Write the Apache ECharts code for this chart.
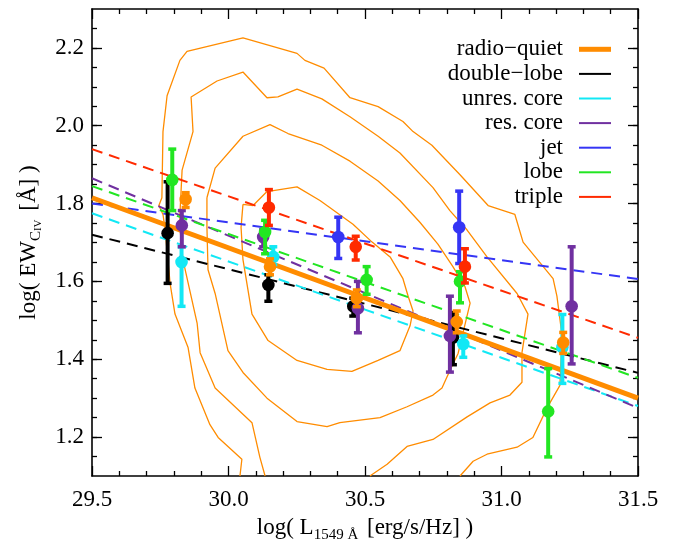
<!DOCTYPE html>
<html>
<head>
<meta charset="utf-8">
<script src="https://cdn.jsdelivr.net/npm/echarts@6/dist/echarts.min.js"></script>
<style>html,body{margin:0;padding:0;background:#fff}#c{width:675px;height:548px}</style>
</head>
<body>
<div id="c"></div>
<script>
// ---------- data ----------
const xTicks = [29.5, 30.0, 30.5, 31.0, 31.5];
const yTicks = [1.2, 1.4, 1.6, 1.8, 2.0, 2.2];
const yMinorTicks = [1.15,1.2,1.25,1.3,1.35,1.4,1.45,1.5,1.55,1.6,1.65,1.7,1.75,1.8,1.85,1.9,1.95,2.0,2.05,2.1,2.15,2.2,2.25];

// density contours of radio-quiet sample
const contour1 = [[30.042,1.10],[30.049,1.143],[29.962,1.199],[29.932,1.232],[29.877,1.326],[29.852,1.430],[29.804,1.516],[29.786,1.595],[29.767,1.739],[29.760,1.772],[29.745,1.795],[29.756,1.815],[29.760,1.985],[29.775,2.077],[29.822,2.168],[29.848,2.191],[30.053,2.226],[30.251,2.186],[30.280,2.168],[30.350,2.148],[30.445,2.072],[30.548,2.049],[30.639,2.011],[30.676,1.985],[30.745,1.950],[30.848,1.874],[30.951,1.795],[31.049,1.772],[31.079,1.701],[31.189,1.607],[31.203,1.562],[31.222,1.460],[31.214,1.333],[31.167,1.275],[31.115,1.199],[31.057,1.174],[30.947,1.156],[30.896,1.138],[30.848,1.10]];
const contour2 = [[30.134,1.10],[30.115,1.148],[30.086,1.237],[29.951,1.326],[29.896,1.417],[29.885,1.493],[29.833,1.656],[29.822,1.739],[29.822,1.772],[29.830,1.886],[29.870,1.985],[29.863,2.074],[29.958,2.115],[30.053,2.138],[30.141,2.072],[30.181,2.074],[30.251,2.094],[30.342,2.069],[30.445,2.023],[30.548,1.973],[30.628,1.930],[30.749,1.841],[30.811,1.782],[30.874,1.732],[30.947,1.663],[31.057,1.569],[31.097,1.516],[31.075,1.417],[31.075,1.341],[31.031,1.308],[30.958,1.288],[30.874,1.252],[30.749,1.194],[30.654,1.176],[30.581,1.130],[30.518,1.10]];
const contour3 = [[29.921,1.815],[29.951,1.891],[30.053,1.973],[30.152,2.003],[30.218,1.980],[30.342,1.950],[30.445,1.909],[30.548,1.858],[30.628,1.808],[30.701,1.752],[30.767,1.696],[30.822,1.638],[30.866,1.587],[30.885,1.544],[30.841,1.415],[30.811,1.371],[30.782,1.326],[30.749,1.308],[30.654,1.278],[30.555,1.250],[30.408,1.237],[30.361,1.227],[30.251,1.240],[30.141,1.300],[30.053,1.366],[29.998,1.422],[29.951,1.569],[29.925,1.630],[29.921,1.739],[29.921,1.815]];
const contour4 = [[30.053,1.798],[30.090,1.795],[30.141,1.831],[30.251,1.843],[30.335,1.808],[30.456,1.747],[30.526,1.701],[30.592,1.663],[30.639,1.607],[30.658,1.562],[30.676,1.524],[30.665,1.486],[30.628,1.422],[30.548,1.397],[30.452,1.369],[30.361,1.374],[30.251,1.397],[30.145,1.448],[30.086,1.516],[30.053,1.656],[30.046,1.739],[30.053,1.798]];

// best-fit lines: value at x = 29.5 and x = 31.5
const fitX = [29.5, 31.5];
const fitRadioQuiet = [1.815, 1.300];
const fitDoubleLobe = [1.720, 1.365];
const fitUnresCore  = [1.775, 1.280];
const fitResCore    = [1.865, 1.275];
const fitJet        = [1.800, 1.606];
const fitLobe       = [1.845, 1.352];
const fitTriple     = [1.940, 1.455];

// binned points with error bars
const rqX  = [29.843, 30.152, 30.470, 30.836, 31.226];
const rqY  = [1.811, 1.638, 1.557, 1.496, 1.443];
const rqLo = [1.790, 1.617, 1.535, 1.468, 1.415];
const rqHi = [1.828, 1.658, 1.578, 1.524, 1.469];

const dlX  = [29.777, 30.146, 30.457, 30.822];
const dlY  = [1.724, 1.591, 1.536, 1.456];
const dlLo = [1.595, 1.549, 1.511, 1.386];
const dlHi = [1.856, 1.617, 1.557, 1.520];

const ucX  = [29.828, 30.164, 30.860, 31.223];
const ucY  = [1.650, 1.663, 1.439, 1.431];
const ucLo = [1.536, 1.643, 1.405, 1.338];
const ucHi = [1.689, 1.689, 1.460, 1.515];

const rcX  = [29.829, 30.127, 30.474, 30.811, 31.257];
const rcY  = [1.744, 1.714, 1.531, 1.460, 1.536];
const rcLo = [1.689, 1.689, 1.468, 1.367, 1.388];
const rcHi = [1.782, 1.733, 1.600, 1.562, 1.689];

const jetX  = [30.402, 30.845];
const jetY  = [1.714, 1.739];
const jetLo = [1.659, 1.646];
const jetHi = [1.765, 1.832];

const lobeX  = [29.794, 30.134, 30.506, 30.848, 31.171];
const lobeY  = [1.861, 1.727, 1.604, 1.600, 1.266];
const lobeLo = [1.782, 1.671, 1.567, 1.545, 1.149];
const lobeHi = [1.940, 1.757, 1.638, 1.625, 1.376];

const triX  = [30.148, 30.466, 30.866];
const triY  = [1.790, 1.689, 1.638];
const triLo = [1.744, 1.655, 1.596];
const triHi = [1.836, 1.716, 1.684];

const names = ['radio\u2212quiet','double\u2212lobe','unres. core','res. core','jet','lobe','triple'];
const colors = ['#ff8c00','#000000','#12e8f5','#7030a0','#3535f5','#22e622','#ff2a00'];

// ---------- build ----------
const FONT = "'Liberation Serif','DejaVu Serif',serif";
const chart = echarts.init(document.getElementById('c'), null, {renderer:'canvas'});

function zip2(xs, ys){ return xs.map((x,i)=>[x, ys[i]]); }
function zip4(xs, ys, lo, hi){ return xs.map((x,i)=>[x, ys[i], lo[i], hi[i]]); }

const series = [];
[contour1, contour2, contour3, contour4].forEach((c)=>{
  series.push({type:'line', data:c, showSymbol:false, symbol:'none', silent:true,
    lineStyle:{color:'#ff8c00', width:1.3}, z:1, xAxisIndex:0, yAxisIndex:0});
});
const fits = [fitRadioQuiet, fitDoubleLobe, fitUnresCore, fitResCore, fitJet, fitLobe, fitTriple];
fits.forEach((f,i)=>{
  series.push({type:'line', name:names[i], data:zip2(fitX, f), showSymbol:false, symbol:'none', silent:true,
    lineStyle: i===0 ? {color:colors[i], width:5} : {color:colors[i], width:2, type:[11,7]},
    itemStyle:{color:colors[i]}, z: i===0 ? 4 : 3, xAxisIndex:0, yAxisIndex:0});
});
const pts = [
  zip4(rqX, rqY, rqLo, rqHi), zip4(dlX, dlY, dlLo, dlHi), zip4(ucX, ucY, ucLo, ucHi),
  zip4(rcX, rcY, rcLo, rcHi), zip4(jetX, jetY, jetLo, jetHi), zip4(lobeX, lobeY, lobeLo, lobeHi),
  zip4(triX, triY, triLo, triHi)
];
const drawOrder = [1,2,3,5,4,6,0];
drawOrder.forEach((i, k)=>{
  const col = colors[i];
  series.push({type:'custom', name:names[i], data:pts[i], silent:true, z:10+k,
    xAxisIndex:0, yAxisIndex:0, encode:{x:0, y:[1,2,3]},
    itemStyle:{color:col},
    renderItem:function(params, api){
      const x = api.value(0);
      const c = api.coord([x, api.value(1)]);
      const lo = api.coord([x, api.value(2)]);
      const hi = api.coord([x, api.value(3)]);
      return {type:'group', children:[
        {type:'line', shape:{x1:c[0], y1:lo[1], x2:c[0], y2:hi[1]}, style:{stroke:col, lineWidth:4}},
        {type:'line', shape:{x1:c[0]-4, y1:lo[1], x2:c[0]+4, y2:lo[1]}, style:{stroke:col, lineWidth:3.5}},
        {type:'line', shape:{x1:c[0]-4, y1:hi[1], x2:c[0]+4, y2:hi[1]}, style:{stroke:col, lineWidth:3.5}},
        {type:'circle', shape:{cx:c[0], cy:c[1], r:6.3}, style:{fill:col}}
      ]};
    }
  });
});

const thick = 'path://M0,0L32,0L32,5L0,5Z';
const thin = 'path://M0,0M0,5M0,1.5L32,1.5L32,3.5L0,3.5Z';

const lbl = {fontFamily:FONT, fontSize:23, color:'#000'};
const option = {
  animation:false,
  backgroundColor:'#fff',
  grid:{left:92, right:37, top:9, bottom:66, containLabel:false},
  legend:{
    orient:'vertical', right:59, top:32, align:'right', itemWidth:32, itemHeight:5, itemGap:0,
    selectedMode:false,
    textStyle:{fontFamily:FONT, fontSize:23, color:'#000', lineHeight:24.6, padding:[0,11,0,0]},
    data: names.map((n,i)=>({name:n, icon: i===0 ? thick : thin, itemStyle:{color:colors[i], borderWidth:0}}))
  },
  xAxis:[
    {type:'value', position:'bottom', min:29.5, max:31.5, interval:0.5,
     axisLine:{show:true, onZero:false, lineStyle:{color:'#000', width:1.6}},
     axisTick:{show:true, inside:true, length:10, lineStyle:{color:'#000', width:1.3}},
     minorTick:{show:true, splitNumber:5, length:5, lineStyle:{color:'#000', width:1.3}},
     splitLine:{show:false},
     axisLabel:Object.assign({margin:12, formatter:(v)=>v.toFixed(1)}, lbl),
     name:'{n|log( L}{s|1549 \u00c5}{n| [erg/s/Hz] )}', nameLocation:'middle', nameGap:37,
     nameTextStyle:{rich:{
       n:{fontFamily:FONT, fontSize:23, color:'#000', lineHeight:30, verticalAlign:'middle'},
       s:{fontFamily:FONT, fontSize:15, color:'#000', lineHeight:15, verticalAlign:'bottom', padding:[0,3,0,0]}
     }}
    },
    {type:'value', position:'top', min:29.5, max:31.5, interval:0.5,
     axisLine:{show:true, onZero:false, lineStyle:{color:'#000', width:1.6}},
     axisTick:{show:true, inside:true, length:10, lineStyle:{color:'#000', width:1.3}},
     minorTick:{show:true, splitNumber:5, length:5, lineStyle:{color:'#000', width:1.3}},
     splitLine:{show:false}, axisLabel:{show:false}}
  ],
  yAxis:[
    {type:'value', position:'left', min:1.1, max:2.3,
     axisLine:{show:true, onZero:false, lineStyle:{color:'#000', width:1.6}},
     axisTick:{show:true, inside:true, length:10, customValues:yTicks, lineStyle:{color:'#000', width:1.3}},
     splitLine:{show:false},
     axisLabel:Object.assign({margin:8, customValues:yTicks, formatter:(v)=>v.toFixed(1)}, lbl),
     name:'{n|log( EW}{s|C}{t|IV}{n| [\u00c5] )}', nameLocation:'middle', nameGap:48, nameRotate:90,
     nameTextStyle:{rich:{
       n:{fontFamily:FONT, fontSize:23, color:'#000', lineHeight:30, verticalAlign:'middle'},
       s:{fontFamily:FONT, fontSize:15, color:'#000', lineHeight:15, verticalAlign:'bottom'},
       t:{fontFamily:FONT, fontSize:11, color:'#000', lineHeight:13, verticalAlign:'bottom', padding:[0,3,0,0]}
     }}
    },
    {type:'value', position:'left', min:1.1, max:2.3,
     axisLine:{show:false},
     axisTick:{show:true, inside:true, length:5, customValues:yMinorTicks, lineStyle:{color:'#000', width:1.3}},
     splitLine:{show:false}, axisLabel:{show:false}},
    {type:'value', position:'right', min:1.1, max:2.3,
     axisLine:{show:true, onZero:false, lineStyle:{color:'#000', width:1.6}},
     axisTick:{show:true, inside:true, length:10, customValues:yTicks, lineStyle:{color:'#000', width:1.3}},
     splitLine:{show:false}, axisLabel:{show:false}},
    {type:'value', position:'right', min:1.1, max:2.3,
     axisLine:{show:false},
     axisTick:{show:true, inside:true, length:5, customValues:yMinorTicks, lineStyle:{color:'#000', width:1.3}},
     splitLine:{show:false}, axisLabel:{show:false}}
  ],
  series: series
};
chart.setOption(option);
</script>
</body>
</html>
